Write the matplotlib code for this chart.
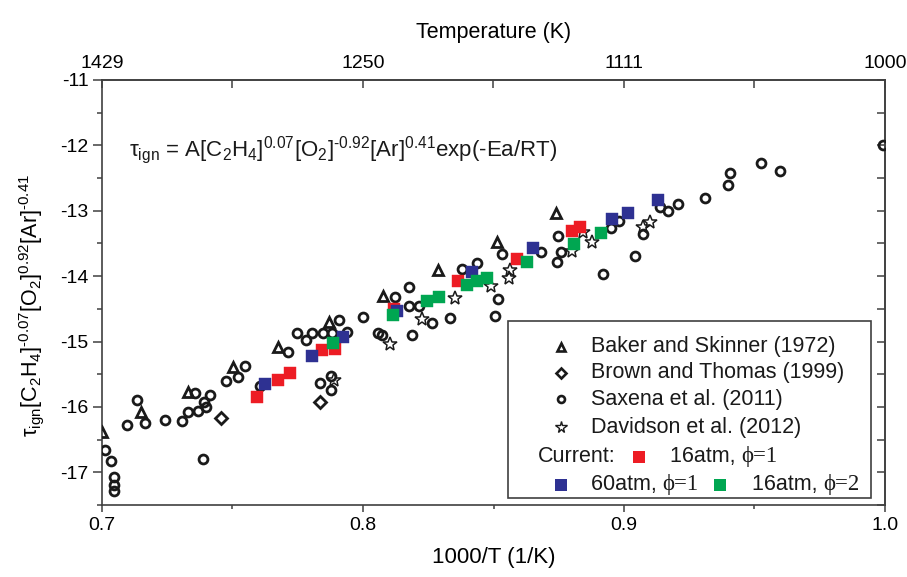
import matplotlib
matplotlib.use("Agg")
import matplotlib.pyplot as plt
from matplotlib.ticker import FixedLocator, MultipleLocator, NullFormatter, FuncFormatter
import numpy as np

plt.rcParams['font.family'] = ['Liberation Sans', 'DejaVu Sans']
plt.rcParams['mathtext.fontset'] = 'custom'
plt.rcParams['mathtext.rm'] = 'Liberation Sans'
plt.rcParams['mathtext.it'] = 'Liberation Sans:italic'
plt.rcParams['mathtext.bf'] = 'Liberation Sans:bold'
plt.rcParams['axes.unicode_minus'] = False

# ---- data: 1000/T (1/K) and normalised ln(tau) ----
baker_x = [0.700, 0.7151, 0.7329, 0.7503, 0.7675, 0.7871, 0.8078, 0.8289, 0.8512, 0.8738]
baker_y = [-16.39, -16.07, -15.77, -15.385, -15.08, -14.70, -14.30, -13.906, -13.47, -13.03]

brown_x = [0.7457, 0.7835]
brown_y = [-16.17, -15.92]

saxena_x = [0.7010, 0.7033, 0.7046, 0.7046, 0.7046, 0.7097, 0.7135, 0.7164, 0.7240, 0.7307,
            0.7330, 0.7368, 0.7400, 0.7391, 0.7413, 0.7357, 0.7388, 0.7475, 0.7522, 0.7548,
            0.7605, 0.7714, 0.7746, 0.7782, 0.7806, 0.7848, 0.7880, 0.7909, 0.7938, 0.7999,
            0.8059, 0.7835, 0.7876, 0.7876, 0.8123, 0.8176, 0.8177, 0.8216, 0.8189, 0.8072,
            0.8263, 0.8333, 0.8380, 0.8438, 0.8518, 0.8506, 0.8531, 0.8681, 0.8748, 0.8759,
            0.8742, 0.8949, 0.8982, 0.9042, 0.8921, 0.9072, 0.9138, 0.9170, 0.9208, 0.9310,
            0.9397, 0.9406, 0.9525, 0.9598, 0.9993]
saxena_y = [-16.659, -16.828, -17.077, -17.195, -17.282, -16.277, -15.895, -16.242, -16.200, -16.211,
            -16.083, -16.063, -15.997, -15.920, -15.818, -15.792, -16.797, -15.599, -15.547, -15.374,
            -15.680, -15.156, -14.874, -14.977, -14.874, -14.874, -14.874, -14.671, -14.850, -14.620,
            -14.874, -15.639, -15.527, -15.741, -14.315, -14.166, -14.457, -14.457, -14.900, -14.900,
            -14.721, -14.645, -13.891, -13.794, -14.354, -14.610, -13.661, -13.626, -13.386, -13.626,
            -13.788, -13.268, -13.152, -13.687, -13.967, -13.360, -12.947, -13.004, -12.901, -12.800,
            -12.606, -12.418, -12.274, -12.392, -11.994]

davidson_x = [0.8103, 0.7889, 0.8225, 0.8352, 0.8490, 0.8561, 0.8563, 0.8800, 0.8844, 0.8876,
              0.9074, 0.9100]
davidson_y = [-15.04, -15.59, -14.66, -14.34, -14.146, -14.024, -13.906, -13.615, -13.32, -13.473,
              -13.244, -13.167]

cur16_phi1_x = [0.7593, 0.7673, 0.7720, 0.7842, 0.7893, 0.8119, 0.8363, 0.8591, 0.8800, 0.8831]
cur16_phi1_y = [-15.844, -15.589, -15.486, -15.130, -15.119, -14.503, -14.074, -13.742, -13.305, -13.244]

cur60_phi1_x = [0.7625, 0.7806, 0.7925, 0.8129, 0.8419, 0.8650, 0.8953, 0.9017, 0.9131]
cur60_phi1_y = [-15.654, -15.221, -14.926, -14.533, -13.937, -13.574, -13.131, -13.039, -12.835]

cur16_phi2_x = [0.7886, 0.8116, 0.8244, 0.8291, 0.8397, 0.8437, 0.8474, 0.8627, 0.8810, 0.8912]
cur16_phi2_y = [-15.017, -14.594, -14.380, -14.315, -14.136, -14.074, -14.024, -13.788, -13.508, -13.336]

x_ticks = [0.7, 0.8, 0.9, 1.0]
y_ticks = [-17, -16, -15, -14, -13, -12, -11]
temp_ticks = [1000 / 0.7, 1250, 1000 / 0.9, 1000]
temp_minor = [1000 / 0.75, 1000 / 0.85, 1000 / 0.95]

RED = '#ED1C24'
BLUE = '#2E3192'
GREEN = '#00A651'
SPINE = '#404040'
INK = '#1a1a1a'
HY = '\u2010'  # short hyphen used as the exponent sign

fig = plt.figure(figsize=(9.07, 5.77), dpi=100)
ax = fig.add_axes([102 / 907, 1 - 505 / 577, 783 / 907, 425 / 577])

# literature data
ax.plot(saxena_x, saxena_y, 'o', ms=6.4, mfc='none', mec=INK, mew=2.0, ls='none', zorder=3)
ax.plot(baker_x, baker_y, '^', ms=7.4, mfc='none', mec=INK, mew=2.0, ls='none', zorder=3)
ax.plot(brown_x, brown_y, 'D', ms=6.2, mfc='none', mec=INK, mew=2.0, ls='none', zorder=3)
ax.plot(davidson_x, davidson_y, '*', ms=10, mfc='none', mec=INK, mew=1.1, ls='none', zorder=3)

# current measurements
ax.plot(cur16_phi1_x, cur16_phi1_y, 's', ms=8.6, mfc=RED, mec=RED, mew=0.3, ls='none', zorder=4)
ax.plot(cur60_phi1_x, cur60_phi1_y, 's', ms=8.6, mfc=BLUE, mec=BLUE, mew=0.3, ls='none', zorder=5)
ax.plot(cur16_phi2_x, cur16_phi2_y, 's', ms=8.6, mfc=GREEN, mec=GREEN, mew=0.3, ls='none', zorder=6)

ax.set_xlim(0.7, 1.0)
ax.set_ylim(-17.5, -11)
ax.xaxis.set_major_locator(FixedLocator(x_ticks))
ax.xaxis.set_minor_locator(MultipleLocator(0.05))
ax.yaxis.set_major_locator(FixedLocator(y_ticks))
ax.yaxis.set_minor_locator(MultipleLocator(0.5))
ax.xaxis.set_major_formatter(FuncFormatter(lambda v, p: f"{v:.1f}"))
ax.yaxis.set_major_formatter(FuncFormatter(lambda v, p: f"{v:.0f}"))

for s in ax.spines.values():
    s.set_color(SPINE)
    s.set_linewidth(1.2)

ax.tick_params(axis='x', which='major', direction='out', length=5, width=1.1, color=SPINE,
               labelsize=14, pad=4, top=False)
ax.tick_params(axis='x', which='minor', direction='out', length=2.8, width=1.1, color=SPINE, top=False)
ax.tick_params(axis='y', which='major', direction='out', length=6.5, width=1.1, color=SPINE,
               labelsize=14, pad=3, right=False)
ax.tick_params(axis='y', which='minor', direction='out', length=3.3, width=1.1, color=SPINE, right=False)

# right axis: inward ticks, no labels
ry = ax.secondary_yaxis('right')
ry.yaxis.set_major_locator(MultipleLocator(0.5))
ry.yaxis.set_major_formatter(NullFormatter())
ry.tick_params(direction='in', length=6, width=1.1, color=SPINE)
ry.spines['right'].set_color(SPINE)
ry.spines['right'].set_linewidth(1.2)

# top axis: temperature
tx = ax.secondary_xaxis('top', functions=(lambda x: 1000.0 / np.asarray(x, float),
                                          lambda t: 1000.0 / np.asarray(t, float)))
tx.xaxis.set_major_locator(FixedLocator(temp_ticks))
tx.xaxis.set_minor_locator(FixedLocator(temp_minor))
tx.xaxis.set_major_formatter(FuncFormatter(lambda v, p: f"{v:.0f}"))
tx.tick_params(which='both', direction='in', length=6, width=1.1, color=SPINE, labelsize=14, pad=6)
tx.spines['top'].set_color(SPINE)
tx.spines['top'].set_linewidth(1.2)
tx.set_xlabel('Temperature (K)', fontsize=15.5, labelpad=12)

ax.set_xlabel('1000/T (1/K)', fontsize=16, labelpad=9)
ax.set_ylabel('τ$_{\\mathrm{ign}}$[C$_{\\mathrm{2}}$H$_{\\mathrm{4}}$]$^{\\mathrm{' + HY + '0.07}}$'
              '[O$_{\\mathrm{2}}$]$^{\\mathrm{0.92}}$[Ar]$^{\\mathrm{' + HY + '0.41}}$', fontsize=15.5)
ax.yaxis.set_label_coords(-0.072, 0.47)

ax.text(0.035, 0.836,
        'τ$_{\\mathrm{ign}}$ = A[C$_{\\mathrm{2}}$H$_{\\mathrm{4}}$]$^{\\mathrm{0.07}}$'
        '[O$_{\\mathrm{2}}$]$^{\\mathrm{' + HY + '0.92}}$[Ar]$^{\\mathrm{0.41}}$exp(-Ea/RT)',
        transform=ax.transAxes, fontsize=16, va='center', ha='left', color=INK)

# ---- legend box ----
box = plt.Rectangle((0.5185, 0.0165), 0.4636, 0.4164, transform=ax.transAxes,
                    fill=True, facecolor='white', edgecolor=SPINE, lw=1.2, zorder=10)
ax.add_patch(box)

lfs = 15.5
mx, tx0 = 0.5862, 0.6245
rows = [0.3725, 0.3106, 0.2494, 0.1835, 0.1136, 0.0471]
leg_items = [('^', 6.4, 1.9, 'Baker and Skinner (1972)'),
             ('D', 5.0, 1.9, 'Brown and Thomas (1999)'),
             ('o', 5.0, 1.9, 'Saxena et al. (2011)'),
             ('*', 8.5, 1.0, 'Davidson et al. (2012)')]
for (m, ms, mew, lab), yy in zip(leg_items, rows[:4]):
    ax.plot([mx], [yy], m, ms=ms, mfc='none', mec=INK, mew=mew,
            transform=ax.transAxes, clip_on=False, zorder=11)
    ax.text(tx0, yy, lab, transform=ax.transAxes, fontsize=lfs, va='center', ha='left',
            color=INK, zorder=11)


def cur_entry(xm, xt, yy, color, label, phi):
    ax.plot([xm], [yy], 's', ms=9, mfc=color, mec=color, mew=0,
            transform=ax.transAxes, clip_on=False, zorder=11)
    t = ax.text(xt, yy, label, transform=ax.transAxes, fontsize=lfs, va='center', ha='left',
                color=INK, zorder=11)
    ax.annotate(phi, xy=(1, 0.5), xycoords=t, va='center', ha='left', fontsize=lfs + 1,
                family=['Liberation Serif', 'DejaVu Serif'], color=INK, zorder=11)


ax.text(0.5568, rows[4], 'Current:', transform=ax.transAxes, fontsize=lfs, va='center',
        ha='left', color=INK, zorder=11)
cur_entry(0.6858, 0.7254, rows[4], RED, '16atm, ', '\u03d5=1')
cur_entry(mx, tx0, rows[5], BLUE, '60atm, ', '\u03d5=1')
cur_entry(0.7893, 0.8301, rows[5], GREEN, '16atm, ', '\u03d5=2')

fig.savefig('out.png', dpi=100)
